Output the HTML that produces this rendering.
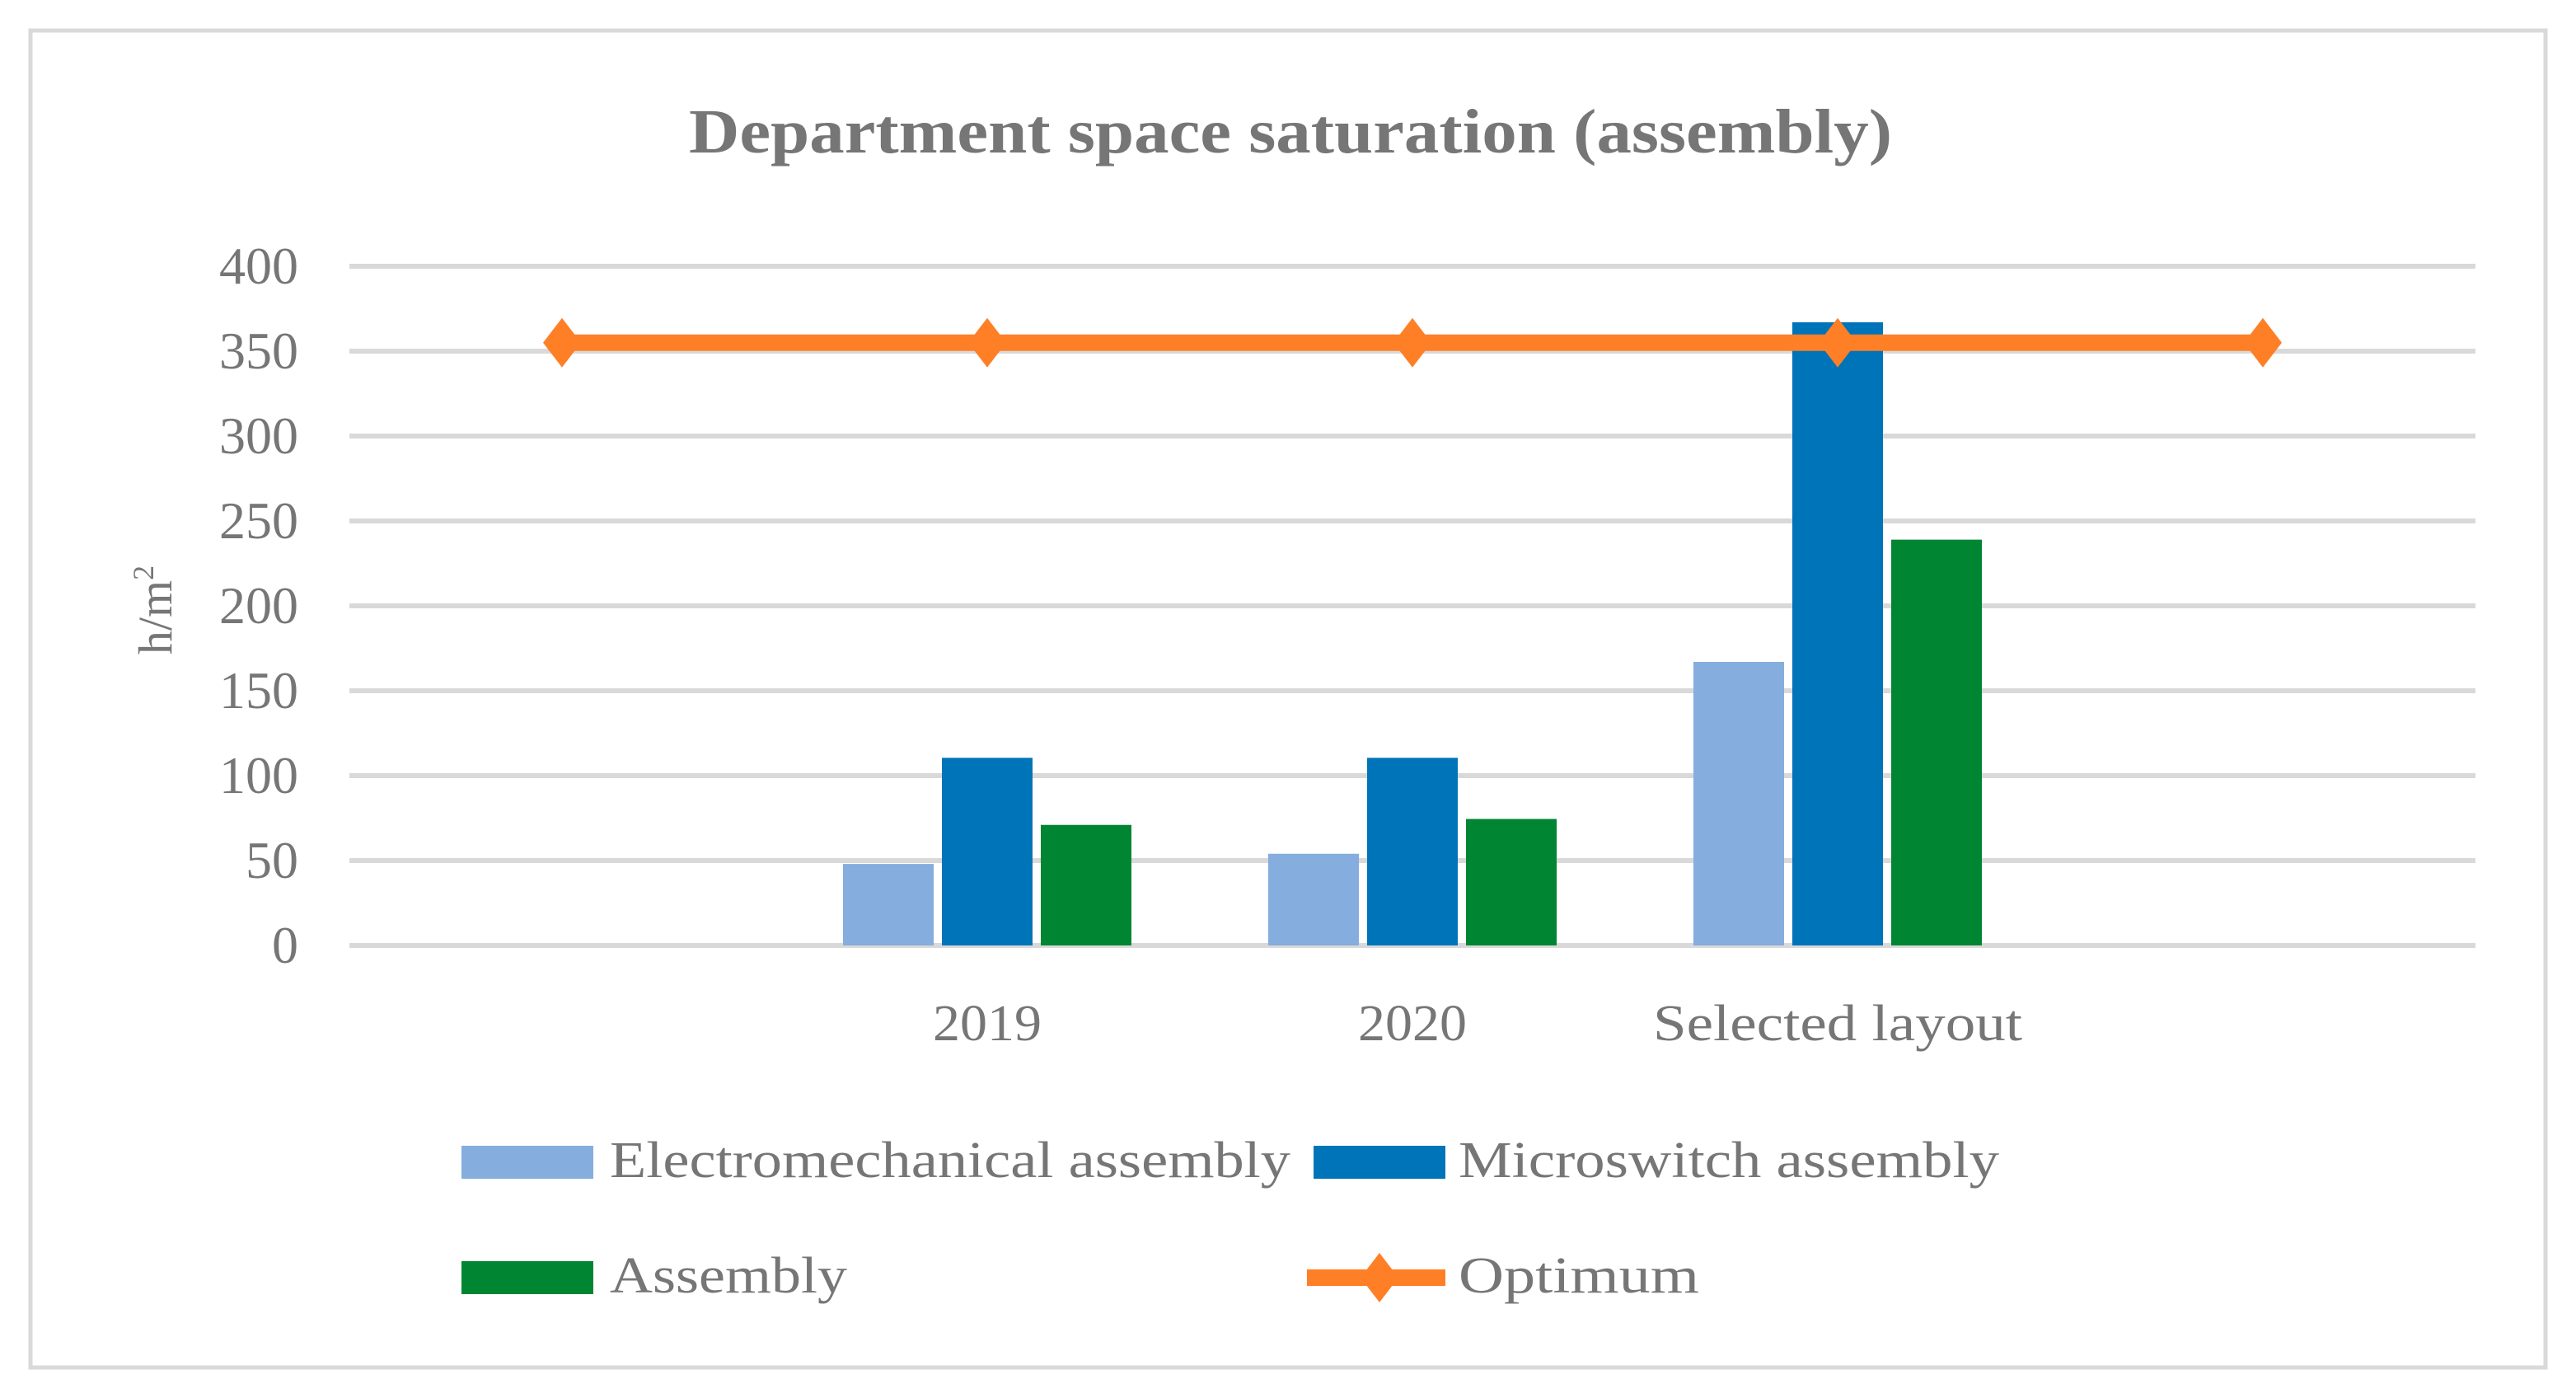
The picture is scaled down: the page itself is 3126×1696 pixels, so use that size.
<!DOCTYPE html>
<html><head><meta charset="utf-8"><style>
body{margin:0;background:#fff;}
svg{display:block;font-family:"Liberation Serif",serif;}
</style></head><body>
<svg id="c" width="3126" height="1696" viewBox="0 0 3126 1696">
<rect x="37" y="37" width="3052" height="1622" fill="#fff" stroke="#d9d9d9" stroke-width="5"/>
<text x="1566" y="185" text-anchor="middle" font-size="76" font-weight="bold" fill="#767676" textLength="1460" lengthAdjust="spacingAndGlyphs">Department space saturation (assembly)</text>
<text transform="translate(208,740) rotate(-90)" text-anchor="middle" font-size="58" fill="#767676">h/m<tspan font-size="36" dy="-22">2</tspan></text>
<g id="grid"></g><g id="bars"></g><g id="line"></g><g id="labels"></g>
<g>
<rect x="560" y="1390" width="160" height="40" fill="#85addd"/>
<text x="740" y="1428" font-size="62" fill="#767676" textLength="826" lengthAdjust="spacingAndGlyphs">Electromechanical assembly</text>
<rect x="1594" y="1390" width="160" height="40" fill="#0074b8"/>
<text x="1770" y="1428" font-size="62" fill="#767676" textLength="656" lengthAdjust="spacingAndGlyphs">Microswitch assembly</text>
<rect x="560" y="1530" width="160" height="40" fill="#008533"/>
<text x="740" y="1568" font-size="62" fill="#767676" textLength="288" lengthAdjust="spacingAndGlyphs">Assembly</text>
<line x1="1586" y1="1550" x2="1754" y2="1550" stroke="#ff7f27" stroke-width="20"/>
<polygon points="1674,1520 1697,1550 1674,1580 1651,1550" fill="#ff7f27"/>
<text x="1770" y="1568" font-size="62" fill="#767676" textLength="292" lengthAdjust="spacingAndGlyphs">Optimum</text>
</g>
</svg>
<script>
const categories=["","2019","2020","Selected layout",""];
const labelWidths=[0,132,132,448,0];
const electromechanical=[null,48,54,167,null];
const microswitch=[null,110.5,110.5,367,null];
const assembly=[null,71,74.5,239,null];
const optimum=[355,355,355,355,355];
const yTicks=[0,50,100,150,200,250,300,350,400];
const NS="http://www.w3.org/2000/svg";
const X0=424,X1=3004,Y0=1147,Y400=323;
const yS=v=>Y0-(v/400)*(Y0-Y400);
const cw=(X1-X0)/categories.length;
const xC=i=>X0+cw*(i+0.5);
function mk(t,a,p){const e=document.createElementNS(NS,t);for(const k in a)e.setAttribute(k,a[k]);p.appendChild(e);return e;}
const grid=document.getElementById('grid'),bars=document.getElementById('bars'),line=document.getElementById('line'),labels=document.getElementById('labels');
yTicks.forEach(v=>{
 const l=mk('line',{x1:X0,x2:X1,y1:yS(v),y2:yS(v),stroke:'#d9d9d9','stroke-width':6},grid);
 
 
 const t=mk('text',{x:362,y:yS(v)+21,'text-anchor':'end','font-size':64,fill:'#767676'},labels);
 t.textContent=v;
 
 
});
categories.forEach((c,i)=>{
 if(!c)return;
 const t=mk('text',{x:xC(i),y:1262,'text-anchor':'middle','font-size':62,fill:'#767676',textLength:labelWidths[i],lengthAdjust:'spacingAndGlyphs'},labels);
 t.textContent=c;
 
 
});
const series=[[electromechanical,'#85addd','electromechanical'],[microswitch,'#0074b8','microswitch'],[assembly,'#008533','assembly']];
const bw=110,step=120;
series.forEach(([arr,col,nm],s)=>{
 arr.forEach((v,i)=>{
  if(v==null)return;
  const cx=xC(i)+(s-1)*step;
  const r=mk('rect',{x:cx-bw/2,y:yS(v),width:bw,height:Y0-yS(v),fill:col},bars);
  
  
 });
});
const pts=optimum.map((v,i)=>xC(i)+','+yS(v)).join(' ');
const pl=mk('polyline',{points:pts,fill:'none',stroke:'#ff7f27','stroke-width':20},line);


optimum.forEach((v,i)=>{
 const x=xC(i),y=yS(v);
 const d=mk('polygon',{points:`${x},${y-30} ${x+23},${y} ${x},${y+30} ${x-23},${y}`,fill:'#ff7f27'},line);
 
 
});
</script>
</body></html>
